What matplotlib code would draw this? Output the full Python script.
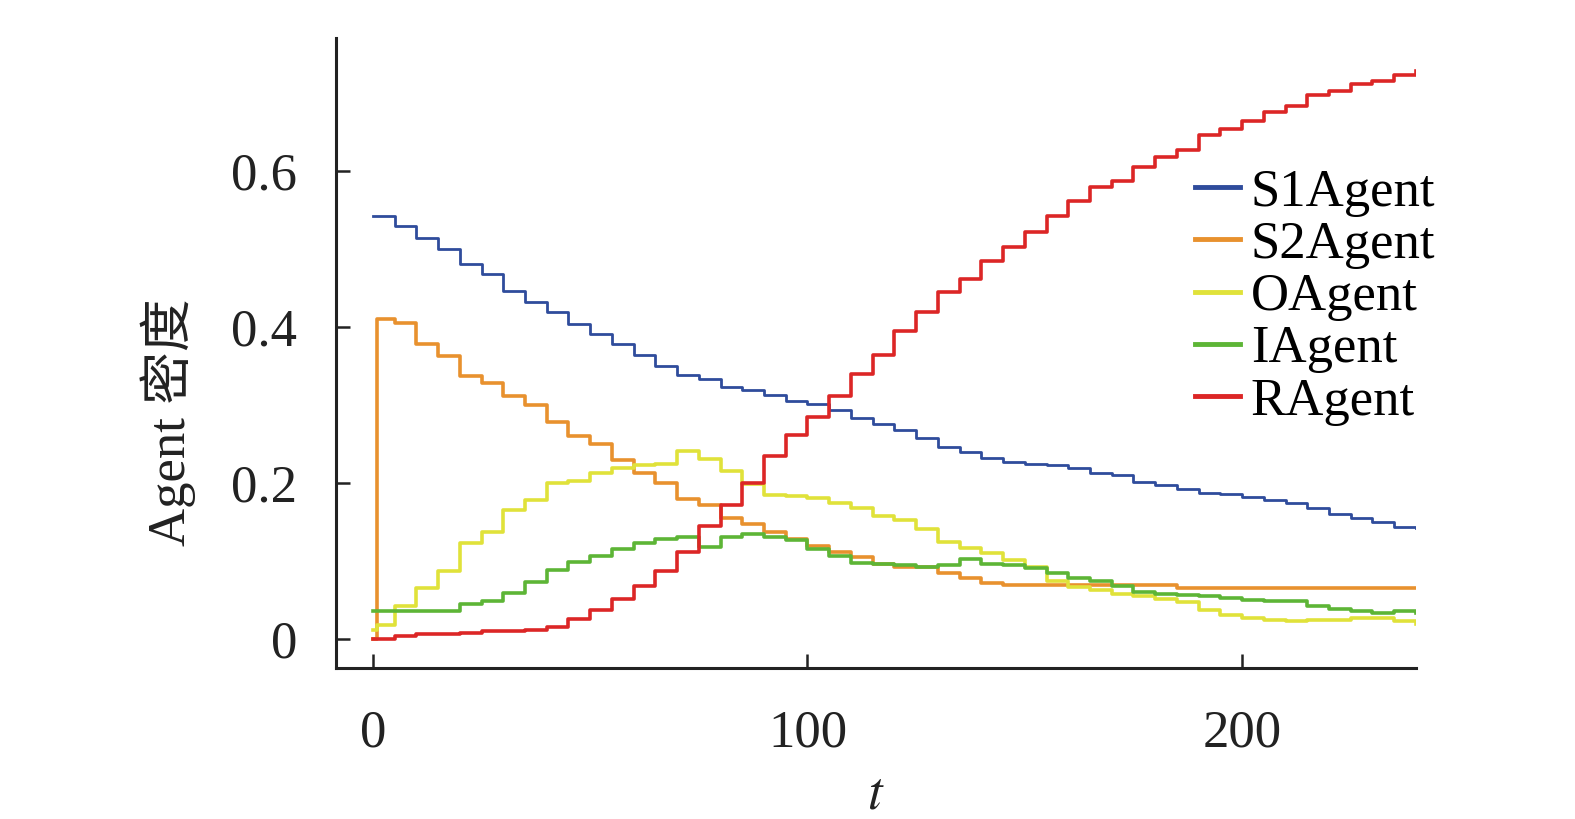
import numpy as np
import matplotlib
matplotlib.use("Agg")
import matplotlib.pyplot as plt

plt.rcParams['font.family'] = ['Liberation Serif', 'Noto Sans CJK SC']
plt.rcParams['mathtext.fontset'] = 'stix'

# sample times (first point is the initial state)
t = np.r_[0, 1, np.arange(5, 245, 5)]

s1 = [0.543, 0.543, 0.530, 0.515, 0.500, 0.481, 0.468, 0.446, 0.432, 0.419, 0.404,
      0.391, 0.378, 0.365, 0.350, 0.339, 0.334, 0.324, 0.319, 0.313, 0.305,
      0.302, 0.294, 0.284, 0.276, 0.268, 0.258, 0.246, 0.240, 0.232, 0.227,
      0.225, 0.223, 0.220, 0.213, 0.210, 0.202, 0.198, 0.193, 0.188, 0.186,
      0.182, 0.178, 0.174, 0.168, 0.161, 0.155, 0.150, 0.144, 0.142]
s2 = [0.000, 0.410, 0.405, 0.378, 0.363, 0.338, 0.328, 0.312, 0.300, 0.279, 0.260,
      0.250, 0.230, 0.213, 0.200, 0.180, 0.172, 0.155, 0.148, 0.138, 0.128,
      0.120, 0.112, 0.105, 0.096, 0.093, 0.092, 0.085, 0.078, 0.072, 0.070,
      0.070, 0.070, 0.070, 0.070, 0.070, 0.070, 0.070, 0.066, 0.066, 0.066,
      0.066, 0.066, 0.066, 0.066, 0.066, 0.066, 0.066, 0.066, 0.066]
o = [0.012, 0.018, 0.043, 0.066, 0.088, 0.123, 0.138, 0.165, 0.178, 0.200, 0.203,
     0.213, 0.219, 0.223, 0.225, 0.241, 0.231, 0.215, 0.199, 0.185, 0.183,
     0.181, 0.175, 0.168, 0.158, 0.153, 0.141, 0.125, 0.117, 0.111, 0.101,
     0.093, 0.075, 0.067, 0.063, 0.058, 0.055, 0.051, 0.047, 0.037, 0.031,
     0.027, 0.024, 0.023, 0.024, 0.025, 0.027, 0.027, 0.023, 0.019]
i_ag = [0.036, 0.036, 0.036, 0.036, 0.036, 0.045, 0.049, 0.059, 0.073, 0.089, 0.099,
        0.107, 0.115, 0.123, 0.128, 0.131, 0.118, 0.131, 0.135, 0.131, 0.127,
        0.115, 0.107, 0.098, 0.096, 0.095, 0.093, 0.095, 0.103, 0.097, 0.095,
        0.091, 0.085, 0.079, 0.075, 0.068, 0.061, 0.058, 0.056, 0.055, 0.053,
        0.050, 0.049, 0.049, 0.043, 0.039, 0.036, 0.034, 0.036, 0.034]
r = [0.000, 0.000, 0.004, 0.006, 0.007, 0.008, 0.010, 0.011, 0.012, 0.016, 0.026,
     0.037, 0.052, 0.068, 0.088, 0.112, 0.145, 0.172, 0.200, 0.235, 0.262,
     0.285, 0.312, 0.340, 0.365, 0.395, 0.420, 0.445, 0.462, 0.485, 0.503,
     0.522, 0.543, 0.562, 0.580, 0.588, 0.606, 0.618, 0.627, 0.646, 0.654,
     0.664, 0.676, 0.684, 0.698, 0.703, 0.712, 0.716, 0.724, 0.729]

names = ['S1Agent', 'S2Agent', 'OAgent', 'IAgent', 'RAgent']
colors = ['#2f4c9c', '#e8912e', '#e0e23a', '#5db536', '#dc2626']
widths = [2.0, 2.6, 2.6, 2.6, 2.6]

fig = plt.figure(figsize=(15.75, 8.19), dpi=100)
ax = fig.add_axes([0.2133, 0.1844, 0.6857, 0.7692])

for ys, name, c, lw in zip([s1, s2, o, i_ag, r], names, colors, widths):
    ax.plot(t, ys, drawstyle='steps-post', color=c, lw=lw, label=name)

ax.set_xlim(-8.5, 240)
ax.set_ylim(-0.037, 0.771)
ax.set_xticks([0, 100, 200])
ax.set_yticks([0, 0.2, 0.4, 0.6])
ax.set_yticklabels(['0', '0.2', '0.4', '0.6'])

for side in ['top', 'right']:
    ax.spines[side].set_visible(False)
for side in ['left', 'bottom']:
    ax.spines[side].set_linewidth(2.2)
    ax.spines[side].set_color('#222222')
ax.tick_params(direction='in', length=10, width=1.8, color='#222222',
               labelsize=38, labelcolor='#222222')
ax.tick_params(axis='y', pad=28)
ax.tick_params(axis='x', pad=30)

ax.set_ylabel('Agent 密度', fontsize=38, color='#222222')
ax.yaxis.set_label_coords(-0.13, 0.39)
ax.set_xlabel('$t$', fontsize=38, color='#222222', labelpad=10)

leg = ax.legend(loc='upper left', bbox_to_anchor=(0.759, 0.794), bbox_transform=fig.transFigure,
                frameon=False, fontsize=38, handlelength=0.85, handletextpad=0.2,
                labelspacing=0.08, borderpad=0, borderaxespad=0)
for h in leg.get_lines():
    h.set_linewidth(3.5)

fig.savefig('out.png', dpi=100)
